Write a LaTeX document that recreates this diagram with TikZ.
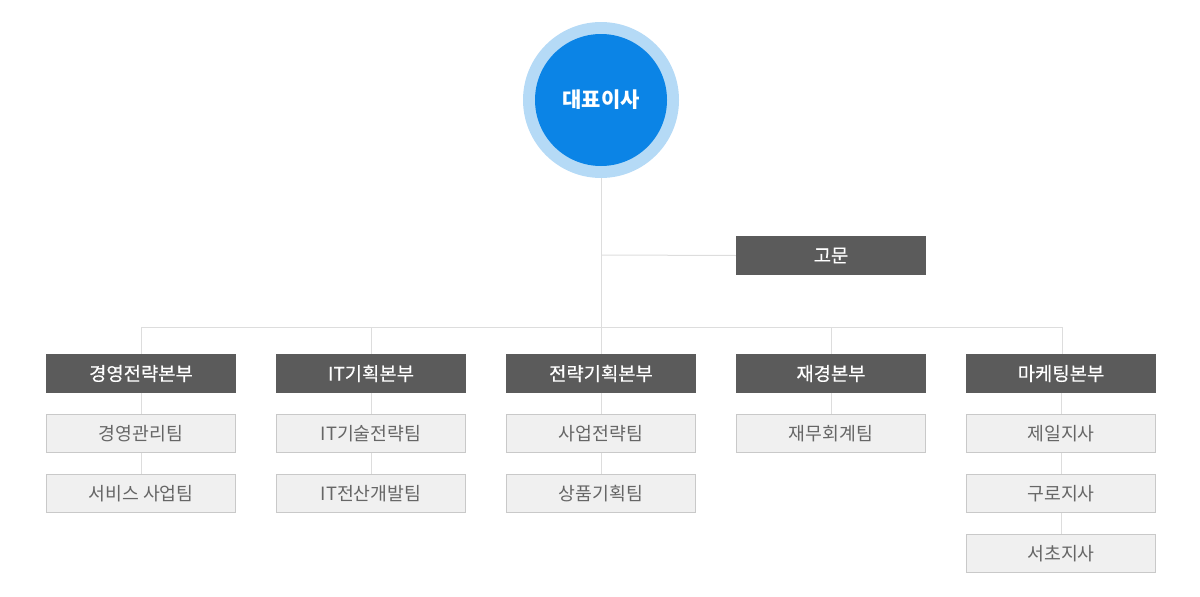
\documentclass[tikz,border=0pt]{standalone}
\usepackage{fontspec}
\newfontfamily\kr{Noto Sans CJK KR}
\newfontfamily\krm[FakeBold=0.5]{Noto Sans CJK KR}
\definecolor{ringblue}{HTML}{B5DAF6}
\definecolor{coreblue}{HTML}{0B84E6}
\definecolor{deptgray}{HTML}{5B5B5B}
\definecolor{subfill}{HTML}{F0F0F0}
\definecolor{subline}{HTML}{C9C9C9}
\definecolor{linkgray}{HTML}{DDDDDD}
\definecolor{subtext}{HTML}{666666}
\begin{document}
\begin{tikzpicture}[x=1pt,y=-1pt,
  dept/.style={fill=deptgray,draw=none,minimum width=190pt,minimum height=39pt,inner sep=0pt,text=white,font=\krm\fontsize{18.8}{22}\selectfont},
  team/.style={fill=subfill,draw=subline,line width=0.8pt,minimum width=189pt,minimum height=38pt,inner sep=0pt,text=subtext,font=\kr\fontsize{18.3}{21}\selectfont},
  link/.style={draw=linkgray,line width=1pt}]
\useasboundingbox (0,0) rectangle (1200,597);
\coordinate (bus) at (601,327);
\coordinate (busL) at (141,327);
\coordinate (busR) at (1062,327);
\coordinate (gj) at (601,255);
% CEO
\node[circle,fill=ringblue,minimum size=156pt,inner sep=0pt] (ceoring) at (601,100) {};
\node[circle,fill=coreblue,minimum size=132pt,inner sep=0pt,text=white,font=\kr\bfseries\fontsize{21}{24}\selectfont] (ceo) at (601,100) {대표이사};
% advisor
\node[dept] (gomun) at (831,255.5) {고문};
% departments
\node[dept] (d1) at (141,373.5) {경영전략본부};
\node[dept] (d2) at (371,373.5) {IT기획본부};
\node[dept] (d3) at (601,373.5) {전략기획본부};
\node[dept] (d4) at (831,373.5) {재경본부};
\node[dept] (d5) at (1061,373.5) {마케팅본부};
% teams
\node[team] (t11) at (141,433.5) {경영관리팀};
\node[team] (t12) at (141,493.5) {서비스 사업팀};
\node[team] (t21) at (371,433.5) {IT기술전략팀};
\node[team] (t22) at (371,493.5) {IT전산개발팀};
\node[team] (t31) at (601,433.5) {사업전략팀};
\node[team] (t32) at (601,493.5) {상품기획팀};
\node[team] (t41) at (831,433.5) {재무회계팀};
\node[team] (t51) at (1061,433.5) {제일지사};
\node[team] (t52) at (1061,493.5) {구로지사};
\node[team] (t53) at (1061,553.5) {서초지사};
% connectors
\path[link] (ceoring.south) -- (bus);
\path[link] (gj) -- (gomun.west);
\path[link] (busL) -- (busR);
\path[link] (busL) -- (d1.north);
\path[link] (d2.north |- bus) -- (d2.north);
\path[link] (d4.north |- bus) -- (d4.north);
\path[link] (busR) -- (busR |- d5.north);
\path[link] (bus) -- (d3.north);
\path[link] (d1.south) -- (t11.north);
\path[link] (t11.south) -- (t12.north);
\path[link] (d2.south) -- (t21.north);
\path[link] (t21.south) -- (t22.north);
\path[link] (d3.south) -- (t31.north);
\path[link] (t31.south) -- (t32.north);
\path[link] (d4.south) -- (t41.north);
\path[link] (d5.south) -- (t51.north);
\path[link] (t51.south) -- (t52.north);
\path[link] (t52.south) -- (t53.north);
\end{tikzpicture}
\end{document}
